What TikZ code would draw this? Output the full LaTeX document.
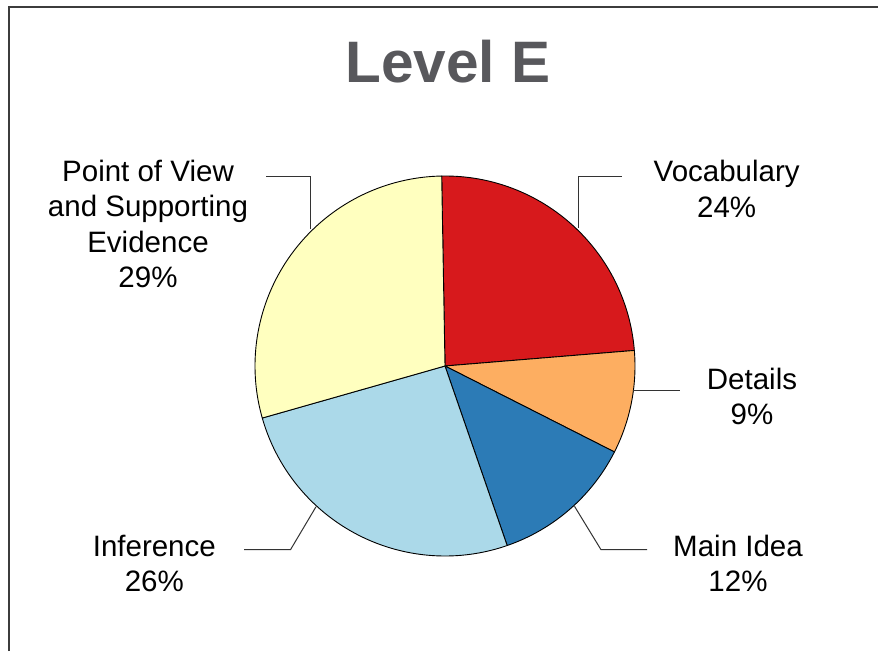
\documentclass[tikz,border=0pt]{standalone}
\usepackage{fontspec}
\setmainfont{Liberation Sans}
\usepackage{xcolor}
\usetikzlibrary{calc, positioning}
\definecolor{vocabRed}{HTML}{D7191C}
\definecolor{detailOrange}{HTML}{FDAE61}
\definecolor{mainBlue}{HTML}{2C7BB6}
\definecolor{inferBlue}{HTML}{ABD9E9}
\definecolor{viewYellow}{HTML}{FFFFBF}
\definecolor{titleGray}{HTML}{58585C}
\definecolor{frameGray}{HTML}{3C3C3C}
\tikzset{
    slice/.style={draw=black, line width=0.9pt, line join=round},
    leader/.style={draw=black!80, line width=1pt},
    pieLabel/.style={inner sep=0pt, anchor=base, align=center, font=\fontsize{29.5}{35.6}\selectfont},
    title/.style={inner sep=0pt, anchor=base, font=\fontsize{58.5}{66}\selectfont\bfseries, text=titleGray},
    frame/.style={draw=frameGray, line width=2pt}
}
\begin{document}
\begin{tikzpicture}[x=1pt, y=1pt]
        \useasboundingbox (0,0) rectangle (878,651);
        \fill[white] (0,0) rectangle (878,651);

        % Frame
        \coordinate (FrameLow) at (8.5,0);
        \coordinate (FrameEnd) at (878,644);
        \draw[frame] (FrameLow) |- (FrameEnd);

        % Title
        \node[title] (Title) at (448,568.3) {Level E};

        % Pie
        \coordinate (C) at (445,285);
        \filldraw[slice, fill=vocabRed] (C) -- ++(91:190pt) arc[start angle=91, end angle=4.7, radius=190pt] -- cycle;
        \filldraw[slice, fill=detailOrange] (C) -- ++(4.7:190pt) arc[start angle=4.7, end angle=-26.9, radius=190pt] -- cycle;
        \filldraw[slice, fill=mainBlue] (C) -- ++(-26.9:190pt) arc[start angle=-26.9, end angle=-70.9, radius=190pt] -- cycle;
        \filldraw[slice, fill=inferBlue] (C) -- ++(-70.9:190pt) arc[start angle=-70.9, end angle=-164.1, radius=190pt] -- cycle;
        \filldraw[slice, fill=viewYellow] (C) -- ++(-164.1:190pt) arc[start angle=-164.1, end angle=-269, radius=190pt] -- cycle;

        % Labels (base = last line)
        \node[pieLabel] (Vocab) at (726.7,433.7) {Vocabulary\\24\%};
        \node[pieLabel] (Details) at (752,226) {Details\\9\%};
        \node[pieLabel] (MainIdea) at (738,59.3) {Main Idea\\12\%};
        \node[pieLabel] (Inference) at (154.3,59.3) {Inference\\26\%};
        \node[pieLabel] (View) at (148,363) {Point of View\\and Supporting\\Evidence\\29\%};

        % Leader lines
        \coordinate (VocabIn) at ($(C)+(46:192pt)$);
        \coordinate (VocabOut) at (622,474.3);
        \coordinate (DetailsIn) at ($(C)+(-7.5:190pt)$);
        \coordinate (DetailsOut) at (680,0 |- DetailsIn);
        \coordinate (MainIn) at ($(C)+(-47.3:191pt)$);
        \coordinate (MainBend) at (601,101.3);
        \coordinate (MainOut) at (647,101.3);
        \coordinate (InferIn) at ($(C)+(227.5:191pt)$);
        \coordinate (InferBend) at (290.5,101.3);
        \coordinate (InferOut) at (244,101.3);
        \coordinate (ViewIn) at ($(C)+(134.5:192pt)$);
        \coordinate (ViewOut) at (266,474.3);

        \draw[leader] (VocabIn) |- (VocabOut);
        \draw[leader] (DetailsIn) -- (DetailsOut);
        \draw[leader] (MainIn) -- (MainBend) -- (MainOut);
        \draw[leader] (InferIn) -- (InferBend) -- (InferOut);
        \draw[leader] (ViewIn) |- (ViewOut);

    \end{tikzpicture}
\end{document}
